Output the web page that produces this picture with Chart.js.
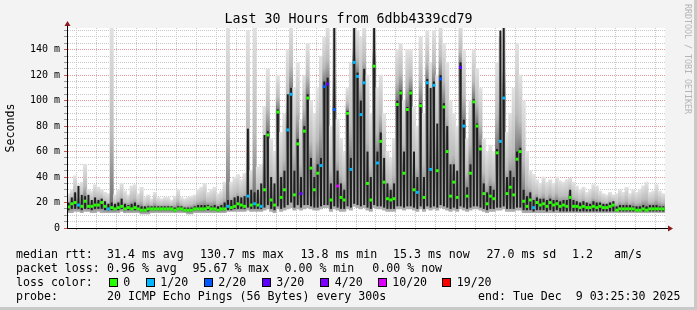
<!DOCTYPE html>
<html>
<head>
<meta charset="utf-8">
<script src="https://cdn.jsdelivr.net/npm/chart.js@4.4.1/dist/chart.umd.min.js"></script>
<style>
  body { margin: 0; background: #fff; }
  #wrap { position: relative; width: 697px; height: 310px; background: #f3f3f3; overflow: hidden;
          box-sizing: border-box; border-right: 3px solid #c9c9c9; border-bottom: 3px solid #c9c9c9; }
  #c { position: absolute; left: 0; top: 0; }
  .t { position: absolute; font-family: 'DejaVu Sans Mono', monospace; font-size: 11.6px; line-height: 14px;
       color: #000; white-space: pre; }
  #title { left: 0; width: 697px; top: 11px; text-align: center; font-size: 13.3px; line-height: 16px; }
  #tag { left: 683px; top: 4px; font-size: 8.3px; line-height: 10px; color: #b5b5b5; writing-mode: vertical-rl; }
  .sq { position: absolute; width: 7px; height: 7px; border: 1px solid #000; top: 278px; }
</style>
</head>
<body>
<div id="wrap">
  <canvas id="c" width="694" height="307"></canvas>
  <div class="t" id="title">Last 30 Hours from 6dbb4339cd79</div>
  <div class="t" id="tag">RRDTOOL / TOBI OETIKER</div>
  <div id="legend"></div>
</div>
<script>
// --- 時間軸: 10分ごとのサンプル, Mon 00:00 からの時間 ---
const START_HOUR = -2.5;
const STEP_HOURS = 1 / 6;
const X_MIN = -2.575;   // Sun 21:25:30
const X_MAX = 27.425;   // Tue 03:25:30
const xTickHours  = [0, 6, 12, 18, 24];
const xTickLabels = ['Mon 00:00', 'Mon 06:00', 'Mon 12:00', 'Mon 18:00', 'Tue 00:00'];

// --- median rtt (ms) ---
const medianMs = [
  16.5,19,20,18,17,21,17,17,18,18,20,17,15,16,15,16,17,15,16,15,16,15,14,14,15,15,15,15,15,15,
  15,15,14,15,15,14,14,14,15,15,15,15,16,15,15,14,15,15,17,16,17,19,18,17,25,18,19,18,17,30,
  73,22,18,91,24,30,77,105,26,66,27,76,102,47,30,43,49,111,113,22,93,33,24,22,90,46,130,119,89,114,
  35,22,127,51,68,36,23,22,23,97,106,43,93,106,30,28,96,24,114,46,112,45,117,95,60,25,36,24,126,80,
  25,43,99,80,62,27,19,25,23,59,68,102,27,32,26,54,60,21,17,22,16,20,18,19,17,20,18,19,17,18,
  17,24,17,17,16,17,16,16,17,16,17,16,16,17,18,14,15,15,15,15,15,14,14,15,14,15,15,15,15,15
];
// --- loss color index (0=0, 1=1/20, 2=2/20, 3=3/20, 4=4/20, 5=10/20, 6=19/20) ---
const lossIdx = [
  0,0,0,1,0,0,0,0,0,0,0,0,1,0,0,0,0,0,0,0,0,0,0,0,0,0,0,0,0,0,
  0,0,0,0,0,0,0,0,0,0,0,0,0,0,0,0,0,0,1,0,0,0,0,0,1,0,1,0,1,0,
  0,0,0,0,0,0,1,1,0,0,3,0,0,0,0,0,1,2,3,0,2,5,0,0,0,1,1,1,1,1,
  0,0,0,1,0,0,0,0,0,0,0,0,0,0,0,1,0,0,1,1,1,0,2,0,0,0,0,0,3,1,
  0,0,0,0,0,0,0,0,0,0,1,1,0,0,0,0,0,0,0,0,1,0,0,0,0,0,0,0,0,0,
  0,0,0,0,0,0,0,0,0,0,0,0,0,0,0,0,0,0,0,0,0,0,0,0,0,0,0,0,0,0
];
// --- smoke: 全pingの範囲 (ms) ---
const smokeLo = [
  12,12,13,13,12,13,13,12,12,13,12,12,12,12,12,12,13,12,12,12,12,12,11,11,11,12,12,12,12,12,
  12,12,12,12,12,12,11,11,12,12,12,12,12,12,12,12,12,12,13,13,13,13,13,13,14,13,13,13,13,14,
  15,13,12,15,13,14,15,16,14,15,14,15,16,15,14,14,15,16,16,13,15,14,13,13,15,14,17,16,15,16,
  14,13,16,15,15,14,13,13,13,15,15,14,15,15,14,13,15,13,15,14,15,14,16,15,14,13,14,13,15,14,
  13,14,15,15,14,13,12,13,13,14,14,15,13,13,13,14,14,12,12,12,12,12,12,12,12,12,12,12,12,12,
  12,12,12,12,12,12,12,12,12,12,12,12,12,12,12,12,12,12,12,12,12,12,12,12,12,12,12,12,12,12
];
const smokeHi = [
  27,30,41,34,36,50,30,29,34,32,30,28,27,160,26,30,35,29,26,33,34,27,32,24,26,23,28,24,23,24,
  24,22,25,30,24,23,24,25,26,30,32,35,28,30,32,27,29,36,160,36,40,42,38,43,155,45,160,48,50,95,
  125,70,60,120,75,90,140,160,110,130,85,120,145,100,90,110,135,150,160,80,160,85,70,60,110,130,160,155,150,160,
  120,90,160,110,120,90,60,55,70,140,145,100,140,140,95,80,150,90,155,130,155,120,160,145,130,100,90,80,160,140,
  70,100,140,125,110,70,60,65,60,130,150,160,75,90,110,145,120,100,60,45,42,38,35,40,36,38,35,40,37,36,
  38,39,36,33,30,32,28,30,34,33,29,27,26,28,26,27,30,28,32,27,30,28,30,33,36,28,29,34,29,27
];
// --- smoke: 中央付近の濃い部分 (ms) ---
const coreLo = [
  14,15,15,15,14,15,15,14,15,15,15,14,14,14,14,14,15,14,14,14,14,14,13,13,13,14,14,14,14,14,
  14,14,13,14,14,13,13,13,14,14,14,14,14,14,14,13,14,14,14,14,15,15,15,15,16,15,15,15,15,16,
  18,15,14,17,15,16,18,20,16,18,16,18,18,17,16,16,17,18,18,15,17,16,15,15,17,16,19,18,17,18,
  16,15,18,17,17,16,15,15,15,17,17,16,17,17,16,15,17,15,17,16,17,16,18,17,16,15,16,15,17,16,
  15,16,17,17,16,15,14,15,15,16,16,17,15,15,15,16,16,14,14,14,13,14,14,14,13,14,13,14,13,13,
  13,13,13,13,13,13,13,13,13,13,13,13,13,13,13,13,13,13,13,13,13,13,13,13,13,13,13,13,13,13
];
const coreHi = [
  20,24,28,33,26,25,26,22,24,22,23,21,19,20,19,20,23,19,18,19,20,18,17,17,17,17,17,17,17,17,
  17,17,16,17,17,16,16,16,17,18,18,18,18,17,18,17,18,20,22,22,24,25,24,25,78,30,28,30,35,73,
  76,40,35,93,40,45,105,110,45,70,40,80,105,55,40,50,55,115,118,35,157,45,35,30,92,55,157,122,100,125,
  60,40,157,60,75,55,35,30,35,100,108,60,95,108,60,40,98,40,117,110,115,82,120,98,80,50,50,45,130,85,
  32,50,101,82,65,35,28,33,30,62,155,157,40,45,40,60,63,30,25,28,22,24,23,23,22,23,22,22,21,22,
  22,30,22,21,20,21,20,19,21,20,20,19,19,20,21,17,18,18,18,18,17,17,17,18,17,18,18,18,17,17
];

const LOSS_COLORS = ['#26ff00', '#00b8ff', '#0059ff', '#5e00ff', '#7e00ff', '#dd00ff', '#ff0000'];
const LOSS_LABELS = ['0', '1/20', '2/20', '3/20', '4/20', '10/20', '19/20'];

// --- 凡例テキスト (x位置は元画像から) ---
const legendRows = [
  { y: 247, items: [[16, 'median rtt:'], [107, '31.4 ms avg'], [200, '130.7 ms max'], [300.5, '13.8 ms min'],
                    [393, '15.3 ms now'], [486.5, '27.0 ms sd'], [572, '1.2'], [614, 'am/s']] },
  { y: 261, items: [[16, 'packet loss:'], [107, '0.96 % avg'], [192.5, '95.67 % max'], [284.5, '0.00 % min'],
                    [372.3, '0.00 % now']] },
  { y: 275, items: [[16, 'loss color:']] },
  { y: 289, items: [[16, 'probe:'], [107, '20 ICMP Echo Pings (56 Bytes) every 300s'],
                    [478, 'end: Tue Dec  9 03:25:30 2025']] }
];
const lossSquareX = [108.5, 145.5, 203.5, 261.5, 320, 377.5, 442];

const MONO = "'DejaVu Sans Mono', monospace";
const GRID_MINOR = '#c8c8c8';
const GRID_MAJOR = '#e39a9a';

function hourAt(i) { return START_HOUR + i * STEP_HOURS; }

// --- 凡例を組み立てる ---
const legendEl = document.getElementById('legend');
let html = '';
legendRows.forEach(row => {
  row.items.forEach(([x, text]) => {
    html += `<div class="t" style="left:${x}px;top:${row.y}px">${text}</div>`;
  });
});
lossSquareX.forEach((x, k) => {
  html += `<div class="sq" style="left:${x}px;background:${LOSS_COLORS[k]}"></div>`;
  html += `<div class="t" style="left:${x + 14.7}px;top:275px">${LOSS_LABELS[k]}</div>`;
});
legendEl.innerHTML = html;

// smoke の濃淡: 上端は薄く、median 付近で濃く
function smokeFill(c) {
  const chart = c.chart;
  const y = chart.scales && chart.scales.y;
  if (c.type !== 'data' || !y || !chart.chartArea) return '#d3d3d3';
  const i = c.dataIndex;
  const pHi = y.getPixelForValue(smokeHi[i]);
  const pLo = y.getPixelForValue(smokeLo[i]);
  const pMed = y.getPixelForValue(medianMs[i]);
  if (pLo - pHi < 2) return '#d3d3d3';
  let t = (pMed - pHi) / (pLo - pHi);
  t = Math.min(0.98, Math.max(0.02, t));
  const g = chart.ctx.createLinearGradient(0, pHi, 0, pLo);
  g.addColorStop(0, '#e2e2e2');
  g.addColorStop(t * 0.6, '#bcbcbc');
  g.addColorStop(t, '#6e6e6e');
  g.addColorStop(1, '#b0b0b0');
  return g;
}

// --- 軸の矢印と描画領域の白背景 ---
const framePlugin = {
  id: 'frame',
  beforeDraw(chart) {
    const { ctx, chartArea: a } = chart;
    ctx.save();
    ctx.fillStyle = '#fff';
    ctx.fillRect(a.left, a.top, a.right - a.left, a.bottom - a.top);
    ctx.restore();
  },
  afterDraw(chart) {
    const { ctx, chartArea: a } = chart;
    ctx.save();
    ctx.strokeStyle = '#000';
    ctx.lineWidth = 1;
    ctx.beginPath();
    ctx.moveTo(a.left + 0.5, a.bottom); ctx.lineTo(a.left + 0.5, a.top - 3);
    ctx.moveTo(a.left, a.bottom + 0.5); ctx.lineTo(a.right + 4, a.bottom + 0.5);
    ctx.stroke();
    ctx.fillStyle = '#8b1a1a';
    ctx.beginPath();
    ctx.moveTo(a.left + 0.5, a.top - 7); ctx.lineTo(a.left - 2.5, a.top - 2); ctx.lineTo(a.left + 3.5, a.top - 2);
    ctx.closePath(); ctx.fill();
    ctx.beginPath();
    ctx.moveTo(a.right + 8, a.bottom + 0.5); ctx.lineTo(a.right + 3, a.bottom - 2.5); ctx.lineTo(a.right + 3, a.bottom + 3.5);
    ctx.closePath(); ctx.fill();
    ctx.restore();
  }
};

new Chart(document.getElementById('c'), {
  type: 'bar',
  data: {
    datasets: [
      {
        type: 'line',
        label: 'median rtt',
        data: medianMs.map((v, i) => ({ x: hourAt(i), y: v })),
        showLine: false,
        pointStyle: 'rect',
        pointRadius: 2.1,
        pointBorderWidth: 0,
        pointBackgroundColor: lossIdx.map(k => LOSS_COLORS[k]),
        order: 0
      },
      {
        label: 'core',
        data: coreLo.map((v, i) => ({ x: hourAt(i), y: [v, coreHi[i]] })),
        backgroundColor: '#1e1e1e',
        grouped: false, barPercentage: 0.6, categoryPercentage: 1, borderWidth: 0,
        order: 1
      },
      {
        label: 'smoke',
        data: smokeLo.map((v, i) => ({ x: hourAt(i), y: [v, smokeHi[i]] })),
        backgroundColor: smokeFill,
        grouped: false, barPercentage: 1, categoryPercentage: 1, borderWidth: 0,
        order: 2
      }
    ]
  },
  options: {
    responsive: false,
    animation: false,
    events: [],
    devicePixelRatio: 1,
    layout: { padding: { left: 0, top: 28, right: 29, bottom: 0 } },
    plugins: { legend: { display: false }, tooltip: { enabled: false } },
    scales: {
      x: {
        type: 'linear',
        min: X_MIN, max: X_MAX,
        offset: false,
        afterFit(s) { s.height = 79; },
        ticks: {
          stepSize: 1, autoSkip: false, maxRotation: 0, includeBounds: false,
          padding: 2, color: '#000', font: { family: MONO, size: 10 },
          callback(v) {
            const k = xTickHours.indexOf(v);
            return k >= 0 ? xTickLabels[k] : '';
          }
        },
        grid: {
          color: c => (c.tick && c.tick.value % 3 === 0) ? GRID_MAJOR : GRID_MINOR,
          tickColor: c => (c.tick && c.tick.value % 3 === 0) ? '#d05050' : '#999',
          tickLength: 2
        },
        border: { color: '#000', dash: [1, 1] }
      },
      y: {
        min: 0, max: 157,
        afterFit(s) { s.width = 67; },
        ticks: {
          stepSize: 5, autoSkip: false, includeBounds: false,
          padding: 4, color: '#000', font: { family: MONO, size: 10 },
          callback: v => v % 20 === 0 ? (v === 0 ? '0' : v + ' m') : ''
        },
        grid: {
          color: c => (c.tick && c.tick.value % 20 === 0) ? GRID_MAJOR : GRID_MINOR,
          tickColor: c => (c.tick && c.tick.value % 20 === 0) ? '#d05050' : '#999',
          tickLength: 3
        },
        border: { color: '#333', dash: [1, 1] },
        title: {
          display: true, text: 'Seconds', color: '#000',
          font: { family: MONO, size: 11.6 }, padding: { top: 4, bottom: 0 }
        }
      }
    }
  },
  plugins: [framePlugin]
});
</script>
</body>
</html>
